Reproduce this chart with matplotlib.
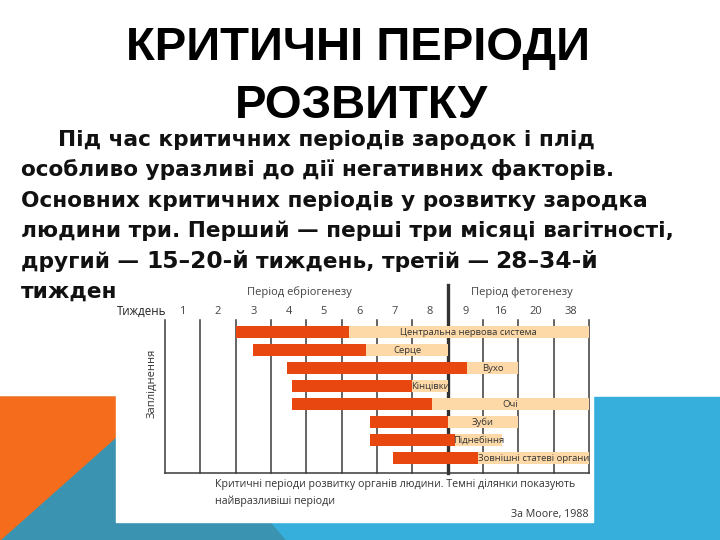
import numpy as np
import matplotlib
matplotlib.use('Agg')
import matplotlib.pyplot as plt
from matplotlib.patches import Polygon, Rectangle

W, H = 720, 540

# chart data (column units: one column per week label)
weeks = ['1', '2', '3', '4', '5', '6', '7', '8', '9', '16', '20', '38']
organs = ['Центральна нервова система', 'Серце', 'Вухо', 'Кінцівки',
          'Очі', 'Зуби', 'Піднебіння', 'Зовнішні статеві органи']
dark_start = [2.0, 2.5, 3.45, 3.6, 3.6, 5.8, 5.8, 6.45]
dark_end = [5.2, 5.7, 8.55, 7.0, 7.55, 8.0, 8.2, 8.85]
light_end = [12.0, 8.0, 10.0, 8.0, 12.0, 10.0, 9.55, 12.0]

title_lines = ['КРИТИЧНІ ПЕРІОДИ', 'РОЗВИТКУ']
body_lines = ['Під час критичних періодів зародок і плід',
              'особливо уразливі до дії негативних факторів.',
              'Основних критичних періодів у розвитку зародка',
              'людини три. Перший — перші три місяці вагітності,']
body_line5 = [('другий —', 0), ('15–20-й', 1), ('тиждень, третій —', 0), ('28–34-й', 1)]
body_line6 = 'тиждень.'
caption = ['Критичні періоди розвитку органів людини. Темні ділянки показують',
           'найвразливіші періоди']
source = 'За Moore, 1988'


def px(x, y):
    return (x / W, 1 - y / H)


fig = plt.figure(figsize=(7.2, 5.4), dpi=100)
fig.patch.set_facecolor('white')
tf = fig.transFigure

# background shapes of the slide
fig.patches.append(Rectangle(px(0, 540), 1, (540 - 397) / H, transform=tf,
                             color='#37afdd', zorder=0.1))
fig.patches.append(Polygon([px(0, 540), px(161, 397), px(285, 540)], closed=True,
                           transform=tf, color='#3a94b1', zorder=0.2))
fig.patches.append(Polygon([px(0, 397), px(161, 397), px(0, 540)], closed=True,
                           transform=tf, color='#f46c1c', zorder=0.3))

# title
bold = dict(family=['Liberation Sans', 'DejaVu Sans'], weight='bold', color='black')
fig.text(*px(358, 60), title_lines[0], fontsize=34, ha='center', va='baseline', **bold)
fig.text(*px(361, 118), title_lines[1], fontsize=34, ha='center', va='baseline', **bold)

# body text
bsize = 15.6
body = dict(family=['DejaVu Sans'], weight='bold', color='#111111')
ys = [146, 176.5, 207, 237, 268, 298]
for i, s in enumerate(body_lines):
    x0 = 58 if i == 0 else 21
    fig.text(*px(x0, ys[i]), s, fontsize=bsize, va='baseline', zorder=1, **body)

r = fig.canvas.get_renderer()
gap = 0.318 * bsize * 100 / 72
x = 21
for s, alt in body_line5:
    size = bsize + 1.2 if alt else bsize
    t = fig.text(*px(x, ys[4]), s, fontsize=size, va='baseline', zorder=1, **body)
    x = t.get_window_extent(r).x1 + gap
fig.text(*px(21, ys[5]), body_line6, fontsize=bsize, va='baseline', zorder=1, **body)

# white picture
fig.patches.append(Rectangle(px(116, 522), 477 / W, (522 - 276) / H, transform=tf,
                             color='white', zorder=2))

# chart
sans = ['Open Sans', 'DejaVu Sans']
dark = '#e8480f'
light = '#fdd9a8'
ax = fig.add_axes([165 / W, 1 - 473 / H, 424 / W, 153 / H])
ax.set_zorder(3)
ax.patch.set_visible(False)
ax.set_xlim(0, 12)
ax.set_ylim(7.83, -0.67)

rows = np.arange(len(organs))
widths_dark = np.array(dark_end) - np.array(dark_start)
widths_light = np.array(light_end) - np.array(dark_end)
ax.barh(rows, widths_light, left=dark_end, height=0.66, color=light, zorder=2)
ax.barh(rows, widths_dark, left=dark_start, height=0.66, color=dark, zorder=3)
for i in rows:
    ax.text((dark_end[i] + light_end[i]) / 2, i, organs[i], ha='center', va='center',
            fontsize=6.8, color='#333333', family=sans, zorder=4)

for i in range(13):
    if i == 8:
        ax.axvline(i, ymin=0, ymax=1 + 35 / 153, color='#333333', lw=2.4,
                   clip_on=False, zorder=1)
    else:
        ax.axvline(i, color='#3a3a3a', lw=1.1, clip_on=False, zorder=1)

for side in ['top', 'right', 'left']:
    ax.spines[side].set_visible(False)
ax.spines['bottom'].set_color('#3a3a3a')
ax.spines['bottom'].set_linewidth(1.1)

ax.xaxis.tick_top()
ax.set_xticks(np.arange(12) + 0.5)
ax.set_xticklabels(weeks, fontsize=8, color='#444444', family=sans)
ax.tick_params(axis='x', length=0, pad=2)
ax.set_yticks([])

ax.text(3.8, (473 - 292) / 153, 'Період ебріогенезу', transform=ax.get_xaxis_transform(),
        ha='center', va='center', fontsize=8, color='#444444', family=sans)
ax.text(10.1, (473 - 292) / 153, 'Період фетогенезу', transform=ax.get_xaxis_transform(),
        ha='center', va='center', fontsize=8, color='#444444', family=sans)

fig.text(*px(142, 311), 'Тиждень', ha='center', va='center', fontsize=8.3,
         color='#222222', family=sans, zorder=4)
fig.text(*px(152, 383), 'Запліднення', ha='center', va='center', rotation=90,
         fontsize=8, color='#333333', family=sans, zorder=4)
fig.text(*px(215, 485), caption[0], ha='left', va='center', fontsize=7.7,
         color='#333333', family=sans, zorder=4)
fig.text(*px(215, 501), caption[1], ha='left', va='center', fontsize=7.7,
         color='#333333', family=sans, zorder=4)
fig.text(*px(589, 514), source, ha='right', va='center', fontsize=7.7,
         color='#333333', family=sans, zorder=4)

fig.savefig('out.png', dpi=100)
